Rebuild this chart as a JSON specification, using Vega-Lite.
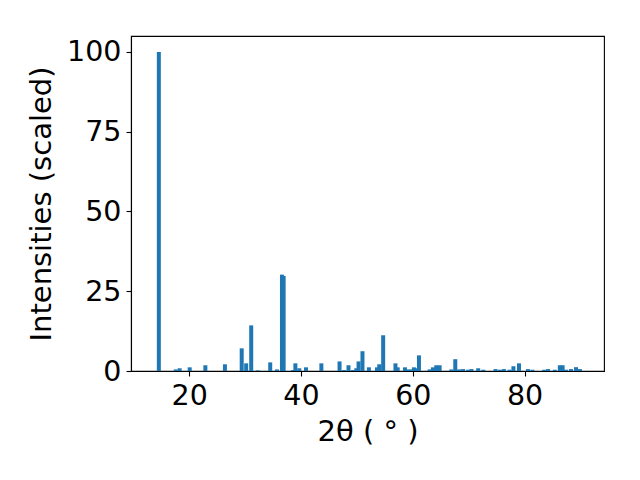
{
  "$schema": "https://vega.github.io/schema/vega-lite/v6.json",
  "width": 473,
  "height": 335,
  "autosize": {"type": "none"},
  "padding": {"left": 131, "top": 36, "right": 36, "bottom": 109},
  "background": "white",
  "config": {
    "view": {"stroke": "black", "strokeWidth": 1.1},
    "font": "DejaVu Sans",
    "axis": {
      "grid": false,
      "domainColor": "black",
      "domainWidth": 1.1,
      "tickColor": "black",
      "tickWidth": 1.1,
      "tickSize": 5,
      "labelFontSize": 28.5,
      "labelColor": "black",
      "labelFont": "DejaVu Sans",
      "titleFont": "DejaVu Sans",
      "titleFontSize": 29,
      "titleFontWeight": "normal",
      "titleColor": "black",
      "labelPadding": 5
    }
  },
  "data": {
    "values": [
      {"two_theta": 14.58, "intensity": 100},
      {"two_theta": 17.6, "intensity": 0.5},
      {"two_theta": 18.3, "intensity": 0.85},
      {"two_theta": 20.1, "intensity": 1.15},
      {"two_theta": 22.9, "intensity": 1.8},
      {"two_theta": 26.4, "intensity": 2.1},
      {"two_theta": 29.4, "intensity": 7.1},
      {"two_theta": 30.2, "intensity": 2.4},
      {"two_theta": 31.1, "intensity": 14.3},
      {"two_theta": 32.3, "intensity": 0.2},
      {"two_theta": 34.5, "intensity": 2.7},
      {"two_theta": 35.7, "intensity": 0.5},
      {"two_theta": 36.6, "intensity": 30.2},
      {"two_theta": 36.9, "intensity": 29.8},
      {"two_theta": 38.6, "intensity": 0.3},
      {"two_theta": 39.0, "intensity": 2.4},
      {"two_theta": 39.7, "intensity": 0.85},
      {"two_theta": 40.9, "intensity": 1.15},
      {"two_theta": 43.65, "intensity": 2.4},
      {"two_theta": 46.9, "intensity": 3.0},
      {"two_theta": 47.7, "intensity": 0.3},
      {"two_theta": 48.5, "intensity": 1.8},
      {"two_theta": 49.3, "intensity": 0.3},
      {"two_theta": 49.9, "intensity": 0.85},
      {"two_theta": 50.3, "intensity": 3.0},
      {"two_theta": 51.0, "intensity": 6.2},
      {"two_theta": 52.15, "intensity": 1.15},
      {"two_theta": 53.6, "intensity": 1.15},
      {"two_theta": 54.0, "intensity": 2.1},
      {"two_theta": 54.7, "intensity": 11.2},
      {"two_theta": 56.9, "intensity": 2.4},
      {"two_theta": 57.3, "intensity": 1.15},
      {"two_theta": 58.6, "intensity": 1.15},
      {"two_theta": 59.1, "intensity": 0.5},
      {"two_theta": 59.7, "intensity": 0.5},
      {"two_theta": 60.2, "intensity": 1.15},
      {"two_theta": 60.6, "intensity": 0.85},
      {"two_theta": 61.1, "intensity": 4.9},
      {"two_theta": 63.0, "intensity": 0.5},
      {"two_theta": 63.6, "intensity": 1.15},
      {"two_theta": 64.2, "intensity": 1.8},
      {"two_theta": 64.8, "intensity": 1.8},
      {"two_theta": 66.9, "intensity": 0.5},
      {"two_theta": 67.6, "intensity": 3.7},
      {"two_theta": 68.3, "intensity": 0.5},
      {"two_theta": 69.0, "intensity": 0.6},
      {"two_theta": 69.9, "intensity": 0.4},
      {"two_theta": 70.5, "intensity": 0.6},
      {"two_theta": 71.7, "intensity": 0.85},
      {"two_theta": 72.6, "intensity": 0.4},
      {"two_theta": 74.8, "intensity": 0.6},
      {"two_theta": 75.6, "intensity": 0.4},
      {"two_theta": 76.3, "intensity": 0.6},
      {"two_theta": 77.3, "intensity": 0.4},
      {"two_theta": 78.0, "intensity": 1.5},
      {"two_theta": 79.0, "intensity": 2.4},
      {"two_theta": 80.6, "intensity": 0.6},
      {"two_theta": 81.4, "intensity": 0.4},
      {"two_theta": 83.5, "intensity": 0.4},
      {"two_theta": 84.2, "intensity": 0.6},
      {"two_theta": 85.4, "intensity": 0.4},
      {"two_theta": 86.3, "intensity": 1.8},
      {"two_theta": 86.8, "intensity": 1.8},
      {"two_theta": 87.4, "intensity": 0.4},
      {"two_theta": 88.3, "intensity": 0.6},
      {"two_theta": 89.2, "intensity": 1.2},
      {"two_theta": 89.9, "intensity": 0.6}
    ]
  },
  "mark": {"type": "bar", "size": 4, "color": "#1f77b4"},
  "encoding": {
    "x": {
      "field": "two_theta",
      "type": "quantitative",
      "scale": {"domain": [9.6, 94.2], "nice": false, "zero": false, "padding": 0},
      "axis": {"values": [20, 40, 60, 80], "title": "2θ ( ° )", "titlePadding": 8}
    },
    "y": {
      "field": "intensity",
      "type": "quantitative",
      "scale": {"domain": [0, 105], "nice": false, "padding": 0},
      "axis": {"values": [0, 25, 50, 75, 100], "title": "Intensities (scaled)", "titlePadding": 10}
    }
  }
}
